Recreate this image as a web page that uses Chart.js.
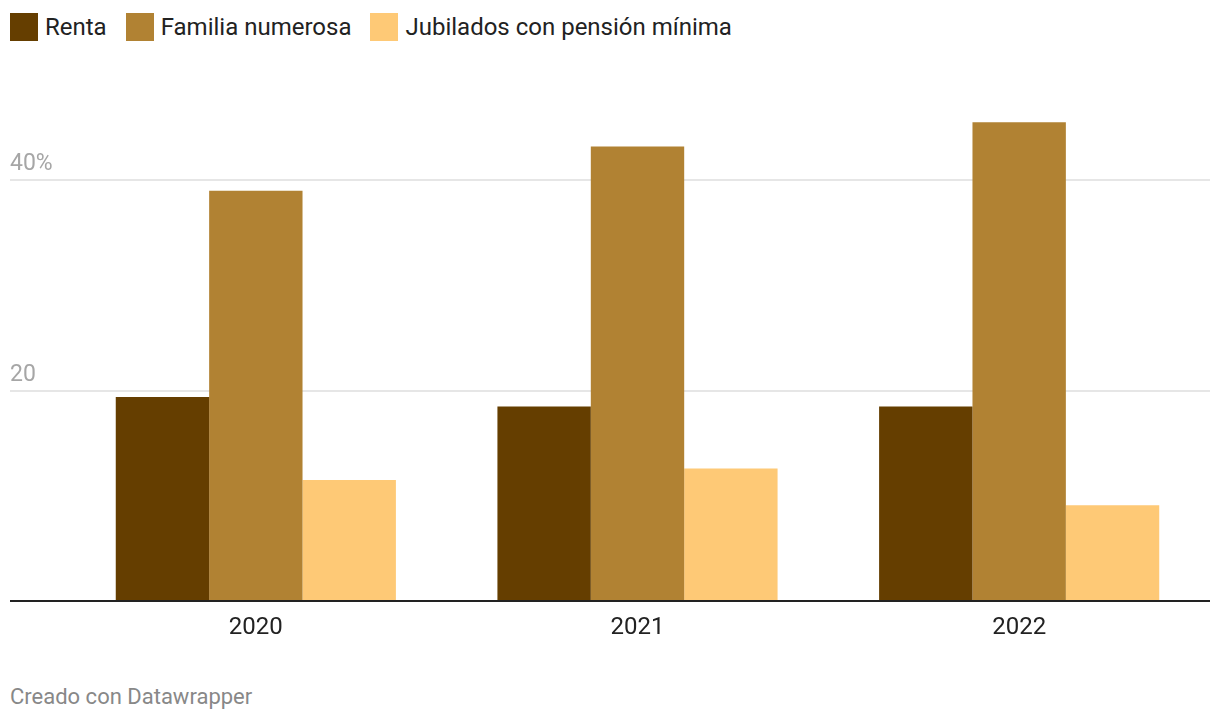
<!DOCTYPE html>
<html>
<head>
<meta charset="utf-8">
<script src="https://cdn.jsdelivr.net/npm/chart.js@4/dist/chart.umd.min.js"></script>
<style>
  html, body { margin: 0; padding: 0; background: #fff; }
  body { width: 1220px; height: 724px; position: relative; overflow: hidden; font-family: Roboto, sans-serif; }
  #legend { position: absolute; left: 10px; top: 13px; display: flex; font-size: 24px; color: #222; line-height: 28px; }
  #legend .item { display: flex; align-items: center; margin-right: 19px; }
  #legend .sw { width: 28px; height: 28px; margin-right: 7px; }
  #wrap { position: absolute; left: 0; top: 60px; width: 1220px; height: 620px; }
  #credit { position: absolute; left: 10px; top: 684px; font-size: 22px; color: #888; }
</style>
</head>
<body>
<div id="legend"></div>
<div id="wrap"><canvas id="chart"></canvas></div>
<div id="credit">Creado con Datawrapper</div>
<script>
// data (percent)
const years = ['2020', '2021', '2022']
const seriesNames = ['Renta', 'Familia numerosa', 'Jubilados con pensión mínima']
const renta = [19.4, 18.5, 18.5]
const familiaNumerosa = [39.0, 43.2, 45.5]
const jubilados = [11.5, 12.6, 9.1]
const yTicks = [20, 40]
const yTickLabels = ['20', '40%']

const colors = ['#653e00', '#b18233', '#fec976']

// gridlines + labels start at the left edge, like datawrapper does
const gridPlugin = {
  id: 'dwGrid',
  beforeDatasetsDraw(chart) {
    const { ctx, chartArea, scales } = chart
    ctx.save()
    ctx.strokeStyle = '#e6e6e6'
    ctx.lineWidth = 2
    ctx.fillStyle = '#a6a6a6'
    ctx.font = '23px Roboto'
    ctx.textAlign = 'left'
    ctx.textBaseline = 'alphabetic'
    yTicks.forEach((v, i) => {
      const y = Math.round(scales.y.getPixelForValue(v))
      ctx.beginPath()
      ctx.moveTo(10, y)
      ctx.lineTo(chartArea.right, y)
      ctx.stroke()
      ctx.fillText(yTickLabels[i], 10, y - 10)
    })
    ctx.restore()
  },
  afterDatasetsDraw(chart) {
    const { ctx, chartArea, scales } = chart
    const y = Math.round(scales.y.getPixelForValue(0))
    ctx.save()
    ctx.strokeStyle = '#222'
    ctx.lineWidth = 2
    ctx.beginPath()
    ctx.moveTo(10, y)
    ctx.lineTo(chartArea.right, y)
    ctx.stroke()
    ctx.restore()
  }
}

const chart = new Chart(document.getElementById('chart'), {
  type: 'bar',
  data: {
    labels: years,
    datasets: [
      { label: seriesNames[0], data: renta, backgroundColor: colors[0] },
      { label: seriesNames[1], data: familiaNumerosa, backgroundColor: colors[1] },
      { label: seriesNames[2], data: jubilados, backgroundColor: colors[2] }
    ]
  },
  options: {
    responsive: true,
    maintainAspectRatio: false,
    animation: false,
    datasets: {
      bar: { barPercentage: 1, categoryPercentage: 0.734, borderWidth: 0 }
    },
    layout: { padding: { left: 65, right: 10, top: 15, bottom: 19 } },
    plugins: {
      legend: { display: false },
      tooltip: { enabled: false }
    },
    scales: {
      x: {
        grid: { display: false },
        border: { display: false },
        ticks: { color: '#222', padding: 5, font: { family: 'Roboto', size: 24 } },
        afterFit: (s) => { s.height = 60 }
      },
      y: {
        display: false,
        min: 0,
        max: 50
      }
    }
  },
  plugins: [gridPlugin]
})

// html legend built from the datasets
const legendEl = document.getElementById('legend')
chart.data.datasets.forEach((ds) => {
  const item = document.createElement('div')
  item.className = 'item'
  const sw = document.createElement('span')
  sw.className = 'sw'
  sw.style.background = ds.backgroundColor
  item.appendChild(sw)
  item.appendChild(document.createTextNode(ds.label))
  legendEl.appendChild(item)
})
</script>
</body>
</html>
